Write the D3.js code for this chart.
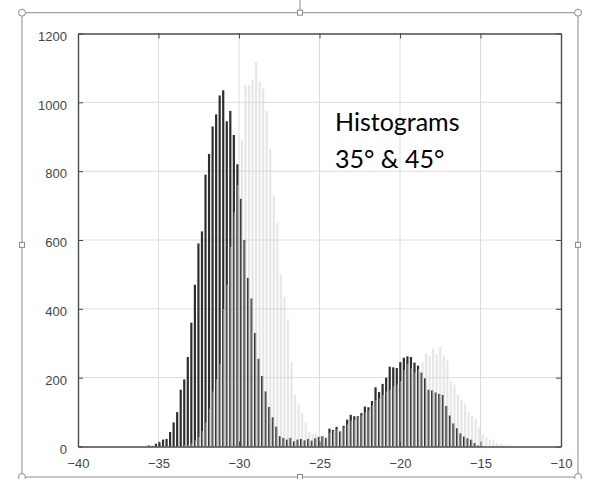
<!DOCTYPE html>
<html>
<head>
<meta charset="utf-8">
<script src="https://cdn.jsdelivr.net/npm/d3@7"></script>
<style>
  html, body { margin: 0; padding: 0; background: #fff; }
  svg { display: block; }
</style>
</head>
<body>
<svg id="chart" width="590" height="479"></svg>
<script>
// Histogram bins: first bin centre and common bin width (x units)
const binWidth = 0.22;
const startA = -35.6;
const startB = -33.56;

// Counts per bin, 35° (dark series)
const countsA = [
  3, 2, 8, 12, 20, 22, 42, 70, 100, 165,
  195, 260, 360, 470, 590, 625, 790, 850, 930, 965,
  1020, 1035, 945, 975, 905, 820, 720, 600, 490, 430,
  330, 255, 205, 160, 115, 85, 58, 30, 25, 20,
  25, 15, 20, 22, 18, 22, 17, 24, 28, 30,
  25, 52, 48, 57, 44, 60, 78, 92, 88, 88,
  97, 116, 114, 132, 172, 158, 182, 200, 232, 230,
  228, 245, 258, 262, 260, 244, 235, 215, 198, 165,
  163, 157, 153, 150, 118, 90, 67, 53, 38, 29,
  24, 20, 10, 3, 1
];

// Counts per bin, 45° (light series)
const countsB = [
  2, 4, 6, 10, 18, 28, 45, 70, 110, 160,
  195, 240, 400, 470, 580, 680, 760, 890, 1050, 1050,
  1065, 1118, 1060, 1040, 975, 865, 730, 650, 500, 435,
  370, 245, 150, 122, 97, 70, 42, 35, 38, 30,
  32, 28, 40, 45, 50, 45, 55, 65, 75, 78,
  85, 90, 100, 105, 120, 135, 140, 150, 160, 165,
  175, 180, 190, 222, 240, 228, 215, 225, 245, 270,
  262, 285, 268, 290, 265, 250, 190, 180, 150, 135,
  125, 100, 88, 80, 55, 35, 25, 20, 18, 10,
  8, 5, 3, 2
];

// Axis ticks
const xTicks = [-40, -35, -30, -25, -20, -15, -10];
const yTicks = [0, 200, 400, 600, 800, 1000, 1200];

// Annotation lines
const noteLines = ["Histograms", "35° & 45°"];

const svg = d3.select("#chart");

const plot = { left: 78, right: 561, top: 33.5, bottom: 446.5 };
const x = d3.scaleLinear().domain([-40, -10]).range([plot.left, plot.right]);
const y = d3.scaleLinear().domain([0, 1200]).range([plot.bottom, plot.top]);

// Grid
const grid = svg.append("g").attr("stroke", "#dcdcdc").attr("stroke-width", 1);
grid.selectAll("line.gx").data(xTicks.slice(1, -1)).join("line")
  .attr("x1", d => x(d)).attr("x2", d => x(d))
  .attr("y1", plot.top).attr("y2", plot.bottom);
grid.selectAll("line.gy").data(yTicks.slice(1, -1)).join("line")
  .attr("x1", plot.left).attr("x2", plot.right)
  .attr("y1", d => y(d)).attr("y2", d => y(d));

// Bars
const barPx = 2.2;
const binsA = countsA.map((v, i) => ({ c: startA + i * binWidth, v }));
const binsB = countsB.map((v, i) => ({ c: startB + i * binWidth, v }));

svg.append("g").selectAll("rect").data(binsA).join("rect")
  .attr("x", d => x(d.c) - barPx / 2)
  .attr("width", barPx)
  .attr("y", d => y(d.v))
  .attr("height", d => y(0) - y(d.v))
  .attr("fill", "#2e2e2e");

svg.append("g").selectAll("rect").data(binsB).join("rect")
  .attr("x", d => x(d.c) - barPx / 2)
  .attr("width", barPx)
  .attr("y", d => y(d.v))
  .attr("height", d => y(0) - y(d.v))
  .attr("fill", "#d4d4d4")
  .attr("fill-opacity", 0.55);

// Axes (box with inward ticks on all sides)
const axisColor = "#4a4a4a";
const labelColor = "#454545";
const font = "'Liberation Sans', Arial, Helvetica, sans-serif";
const fmt = d3.format("d");

const xAxisB = d3.axisBottom(x).tickValues(xTicks).tickFormat(fmt).tickSizeInner(-5).tickSizeOuter(0).tickPadding(10);
const xAxisT = d3.axisTop(x).tickValues(xTicks).tickSizeInner(-5).tickSizeOuter(0).tickFormat("");
const yAxisL = d3.axisLeft(y).tickValues(yTicks).tickFormat(fmt).tickSizeInner(-5).tickSizeOuter(0).tickPadding(11);
const yAxisR = d3.axisRight(y).tickValues(yTicks).tickSizeInner(-5).tickSizeOuter(0).tickFormat("");

function styleAxis(g) {
  g.select(".domain").attr("stroke", axisColor).attr("stroke-width", 1.4);
  g.selectAll(".tick line").attr("stroke", axisColor).attr("stroke-width", 1);
  g.selectAll(".tick text")
    .attr("fill", labelColor)
    .style("font-family", font)
    .style("font-size", "13px");
}

svg.append("g").attr("transform", `translate(0,${plot.bottom})`).call(xAxisB).call(styleAxis)
  .selectAll(".tick text").attr("dy", "0.85em");
svg.append("g").attr("transform", `translate(0,${plot.top})`).call(xAxisT).call(styleAxis);
svg.append("g").attr("transform", `translate(${plot.left},0)`).call(yAxisL).call(styleAxis)
  .selectAll(".tick text").attr("dy", "0.52em");
svg.append("g").attr("transform", `translate(${plot.right},0)`).call(yAxisR).call(styleAxis);

// Annotation
const note = svg.append("text")
  .attr("x", 335)
  .attr("y", 131)
  .attr("fill", "#000")
  .style("font-family", "Lato, 'Open Sans', sans-serif")
  .style("font-size", "25px");
note.selectAll("tspan").data(noteLines).join("tspan")
  .attr("x", 335)
  .attr("dy", (d, i) => i === 0 ? 0 : 37)
  .text(d => d);

// Selection frame with handles
const frame = { left: 22, right: 578, top: 12.7, bottom: 477 };
const midX = (frame.left + frame.right) / 2;
const midY = (frame.top + frame.bottom) / 2;
const handle = svg.append("g").attr("stroke", "#8a8a8a").attr("stroke-width", 1).attr("fill", "#fff");
handle.append("line").attr("x1", midX).attr("x2", midX).attr("y1", 0).attr("y2", frame.top);
handle.append("rect")
  .attr("x", frame.left).attr("y", frame.top)
  .attr("width", frame.right - frame.left).attr("height", frame.bottom - frame.top)
  .attr("fill", "none");
[[frame.left, frame.top], [frame.right, frame.top], [frame.left, frame.bottom], [frame.right, frame.bottom]]
  .forEach(([cx, cy]) => handle.append("circle").attr("cx", cx).attr("cy", cy).attr("r", 3.5));
[[midX, frame.top], [midX, frame.bottom], [frame.left, midY], [frame.right, midY]]
  .forEach(([cx, cy]) => handle.append("rect").attr("x", cx - 2.5).attr("y", cy - 2.5).attr("width", 5).attr("height", 5));
</script>
</body>
</html>
